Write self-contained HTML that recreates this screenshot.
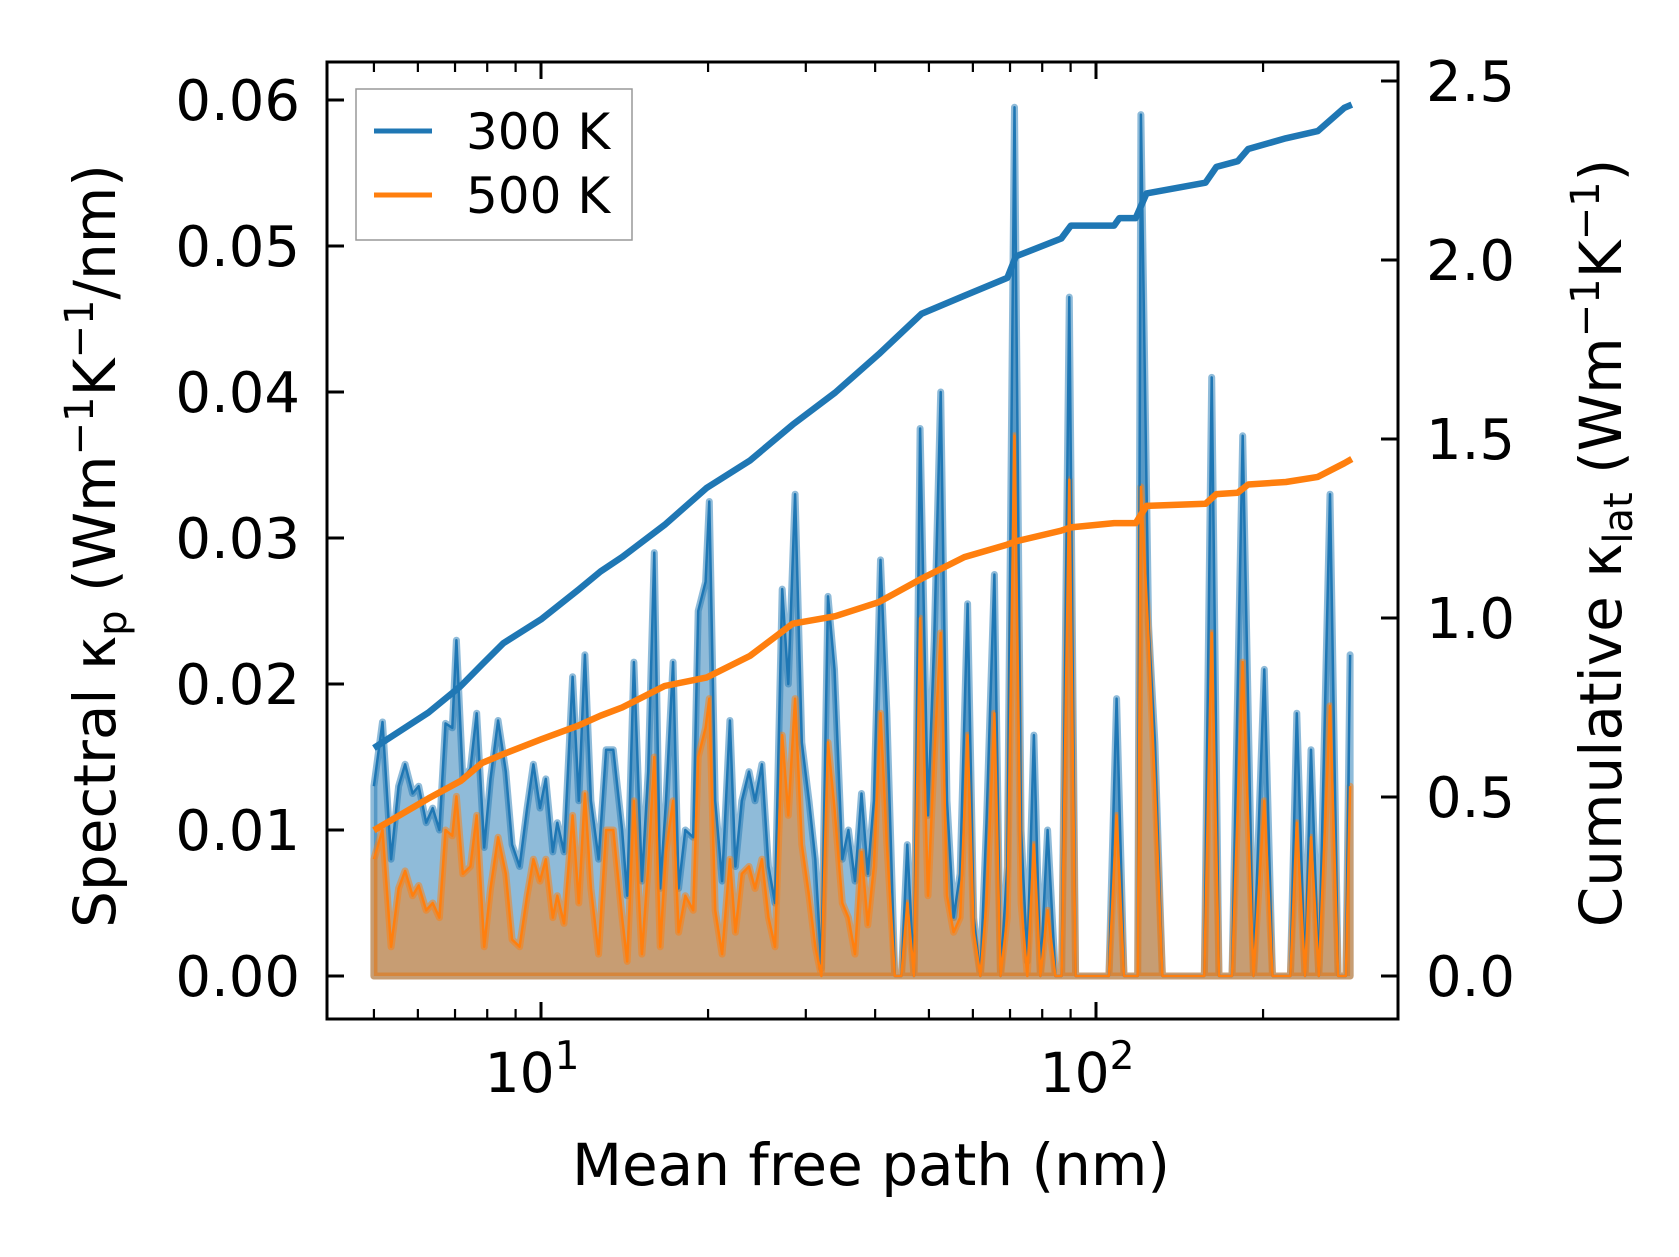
<!DOCTYPE html>
<html><head><meta charset="utf-8">
<style>
html,body{margin:0;padding:0;background:#fff;}
svg{display:block;font-family:"DejaVu Sans","Liberation Sans",sans-serif;}
</style></head>
<body>
<svg id="chart" width="1679" height="1257" viewBox="0 0 1679 1257" xmlns="http://www.w3.org/2000/svg">
<rect x="0" y="0" width="1679" height="1257" fill="#fff"/>
<g id="plot"></g>
<g id="axes"></g>
</svg>
<script>
const mfp = [5.00,5.18,5.37,5.54,5.69,5.87,6.02,6.21,6.38,6.56,6.73,6.92,7.04,7.23,7.46,7.66,7.90,8.11,8.37,8.64,8.87,9.15,9.44,9.69,9.96,10.2,10.5,10.7,11.0,11.4,11.7,12.0,12.3,12.7,13.1,13.5,14.0,14.3,14.7,15.2,15.6,16.0,16.4,16.8,17.3,17.7,18.2,18.8,19.2,19.8,20.1,20.6,21.2,21.9,22.4,23.0,23.7,24.3,25.0,25.7,26.4,27.2,27.9,28.7,29.5,30.4,31.2,32.0,32.9,33.8,34.9,35.8,36.8,37.8,38.8,39.8,40.9,42.0,43.4,44.6,45.7,47.0,48.2,49.8,51.1,52.5,53.9,55.4,56.9,58.7,60.2,61.9,63.5,65.6,67.3,69.2,71.3,73.3,75.2,77.3,79.4,81.8,84.5,86.7,89.5,91.9,94.4,105.5,108.9,112.3,118.9,120.5,124.4,127.7,131.7,156.7,161.6,166.6,175.8,183.8,192.2,201,208,224,230,238,244,252,264,273,282,287];
const spec300 = [13,17.4,8,13,14.5,12.5,13,10.5,11.5,10,17.3,17,23,13.5,14.2,18,8.8,13.5,17.5,14,9,7.5,11.5,14.5,11.5,13.5,8.5,10.5,8.5,20.5,12,22,12,8,15.5,15.5,10,5.5,21.5,6.5,14,29,6,12,21.5,6,10,9.5,25,27,32.5,12,6.5,17.5,7.5,12,14,12,14.5,7.5,5,26.5,20,33,16,12,8,0.5,26,21,8,10,6.5,12.5,7,12,28.5,18,0,0,9,0,37.5,11,23,40,12,4,7,25.5,4,0,10.5,27.5,0,7.5,59.5,10,1,16.5,0,10,0,0,46.5,0,0,0,19,0,0,59,24,16,0,0,41,0,0,37,0,21,0,0,18,0,15.5,0,33,0,0,22];
const spec500 = [8,10,2,6,7.2,5.5,6.2,4.5,5,4,10,9.6,12.3,7,7.5,11,2,6,9.5,7,2.5,2,5.5,8,6.5,8,4,5.5,3.6,11,5,12.5,6,1.5,10,10,4,1,12,1.5,7.5,15,2,8.5,12,3,5.5,4.5,15,17,19,4.5,1.5,8,3,7,7.5,6,8,4,2,16.5,11,19,9,5.5,2,0,16,11.5,5,4,1.5,8.5,3.5,7.5,18,9,0,0,5,0,24.5,5.5,15,23.5,5.5,3,4,16.5,3,0,5,18,0,4,37,5,0,9,0,4.5,0,0,34,0,0,0,11,0,0,33.5,23,13,0,0,23.5,0,0,21.5,0,12,0,0,10.5,0,9.5,0,18.5,0,0,13];
const cumX = [5,6.27,7.17,7.83,8.56,10,11.7,12.8,14.0,16.7,19.9,23.8,28.4,33.9,40.6,48.5,57.9,69.2,71.7,86.6,90.1,107.8,110.2,117.9,123.3,157.5,164.8,180,188,219.9,251,280,289];
const cum300 = [0.637,0.736,0.81,0.87,0.93,0.996,1.08,1.13,1.17,1.26,1.364,1.44,1.54,1.63,1.737,1.85,1.90,1.95,2.01,2.06,2.096,2.096,2.117,2.117,2.186,2.216,2.26,2.276,2.31,2.34,2.36,2.425,2.434];
const cum500 = [0.407,0.496,0.545,0.595,0.62,0.661,0.70,0.727,0.75,0.81,0.834,0.894,0.984,1.005,1.044,1.11,1.17,1.205,1.214,1.244,1.253,1.265,1.265,1.265,1.313,1.319,1.346,1.35,1.373,1.38,1.394,1.432,1.444];
const leftTicks = [0,0.01,0.02,0.03,0.04,0.05,0.06];
const leftTickLabels = ["0.00","0.01","0.02","0.03","0.04","0.05","0.06"];
const rightTicks = [0,0.5,1.0,1.5,2.0,2.5];
const rightTickLabels = ["0.0","0.5","1.0","1.5","2.0","2.5"];
const xMajor = [10,100];
const xMajorExp = ["1","2"];
const xMinor = [5,6,7,8,9,20,30,40,50,60,70,80,90,200];

const L=327,R=1398,T=62,B=1019;
const X = m => 541 + 555*(Math.log10(m)-1);
const YL = v => 976 - v*14600;
const YR = v => 976 - v*358;
const NS="http://www.w3.org/2000/svg";
const plot=document.getElementById('plot'), axes=document.getElementById('axes');
function mk(tag,attrs,parent){const e=document.createElementNS(NS,tag);for(const k in attrs)e.setAttribute(k,attrs[k]);parent.appendChild(e);return e;}

function fillPath(vals){
  let d=`M${X(mfp[0])},${YL(0)}`;
  for(let i=0;i<mfp.length;i++) d+=`L${X(mfp[i]).toFixed(1)},${YL(vals[i]/1000).toFixed(1)}`;
  d+=`L${X(mfp[mfp.length-1])},${YL(0)}Z`;return d;}
function linePath(xs,vals,f){return xs.map((x,i)=>(i?'L':'M')+X(x).toFixed(1)+','+f(vals[i]).toFixed(1)).join('');}

const f3=mk('path',{d:fillPath(spec300),fill:'#1f77b4','fill-opacity':0.5,stroke:'#1f77b4','stroke-opacity':0.5,'stroke-width':7,'stroke-linejoin':'round'},plot);


const f5=mk('path',{d:fillPath(spec500),fill:'#ff7f0e','fill-opacity':0.5,stroke:'#ff7f0e','stroke-opacity':0.5,'stroke-width':7,'stroke-linejoin':'round'},plot);


const l3=mk('path',{d:linePath(mfp,spec300,v=>YL(v/1000)),fill:'none',stroke:'#1f77b4','stroke-width':2.5,'stroke-linejoin':'round'},plot);


const l5=mk('path',{d:linePath(mfp,spec500,v=>YL(v/1000)),fill:'none',stroke:'#ff7f0e','stroke-width':2.5,'stroke-linejoin':'round'},plot);


const c3=mk('path',{d:linePath(cumX,cum300,YR),fill:'none',stroke:'#1f77b4','stroke-width':6.5,'stroke-linejoin':'round'},plot);


const c5=mk('path',{d:linePath(cumX,cum500,YR),fill:'none',stroke:'#ff7f0e','stroke-width':6.5,'stroke-linejoin':'round'},plot);



const fr=mk('rect',{x:L,y:T,width:R-L,height:B-T,fill:'none',stroke:'#000','stroke-width':3},axes);


leftTicks.forEach((v,i)=>{
  const y=YL(v);
  const t=mk('line',{x1:L,x2:L+17,y1:y,y2:y,stroke:'#000','stroke-width':3},axes);
  
  
  const tx=mk('text',{x:300,y:y+20,'text-anchor':'end','font-size':56},axes);
  tx.textContent=leftTickLabels[i];
  
  
});
rightTicks.forEach((v,i)=>{
  const y=YR(v);
  const t=mk('line',{x1:R-17,x2:R,y1:y,y2:y,stroke:'#000','stroke-width':3},axes);
  
  
  const tx=mk('text',{x:1426,y:y+20,'text-anchor':'start','font-size':56},axes);
  tx.textContent=rightTickLabels[i];
  
  
});
xMajor.forEach((m,i)=>{
  const x=X(m);
  [[B-17,B],[T,T+17]].forEach(p=>{
    const t=mk('line',{x1:x,x2:x,y1:p[0],y2:p[1],stroke:'#000','stroke-width':3},axes);
    
    
  });
  const tx=mk('text',{x:x-9,y:1092,'text-anchor':'middle','font-size':55},axes);
  tx.textContent='10';
  const sp=mk('tspan',{dy:-23,'font-size':39},tx);
  sp.textContent=xMajorExp[i];
  
  
});
xMinor.forEach(m=>{
  const x=X(m);
  [[B-10,B],[T,T+10]].forEach(p=>{
    const t=mk('line',{x1:x,x2:x,y1:p[0],y2:p[1],stroke:'#000','stroke-width':2.2},axes);
    
    
  });
});
</script>
<svg style="position:absolute;left:0;top:0" width="1679" height="1257" xmlns="http://www.w3.org/2000/svg" font-family="DejaVu Sans, Liberation Sans, sans-serif">
<text x="871" y="1185" text-anchor="middle" font-size="58">Mean free path (nm)</text>
<text transform="translate(115,546) rotate(-90)" text-anchor="middle" font-size="58">Spectral κ<tspan font-size="40" dy="11">p</tspan><tspan dy="-11"> (Wm</tspan><tspan font-size="40" dy="-22">−1</tspan><tspan dy="22">K</tspan><tspan font-size="40" dy="-22">−1</tspan><tspan dy="22">/nm)</tspan></text>
<text transform="translate(1621,543) rotate(-90)" text-anchor="middle" font-size="58">Cumulative κ<tspan font-size="40" dy="11">lat</tspan><tspan dy="-11"> (Wm</tspan><tspan font-size="40" dy="-22">−1</tspan><tspan dy="22">K</tspan><tspan font-size="40" dy="-22">−1</tspan><tspan dy="22">)</tspan></text>
<g>
<rect x="356" y="89" width="276" height="151" fill="#fff" fill-opacity="0.8" stroke="#999" stroke-width="1.5"/>
<line x1="374" x2="432" y1="131" y2="131" stroke="#1f77b4" stroke-width="5"/>
<text x="466" y="149" font-size="50">300 K</text>
<line x1="374" x2="432" y1="195" y2="195" stroke="#ff7f0e" stroke-width="5"/>
<text x="466" y="213" font-size="50">500 K</text>
</g>
</svg>
</body></html>
